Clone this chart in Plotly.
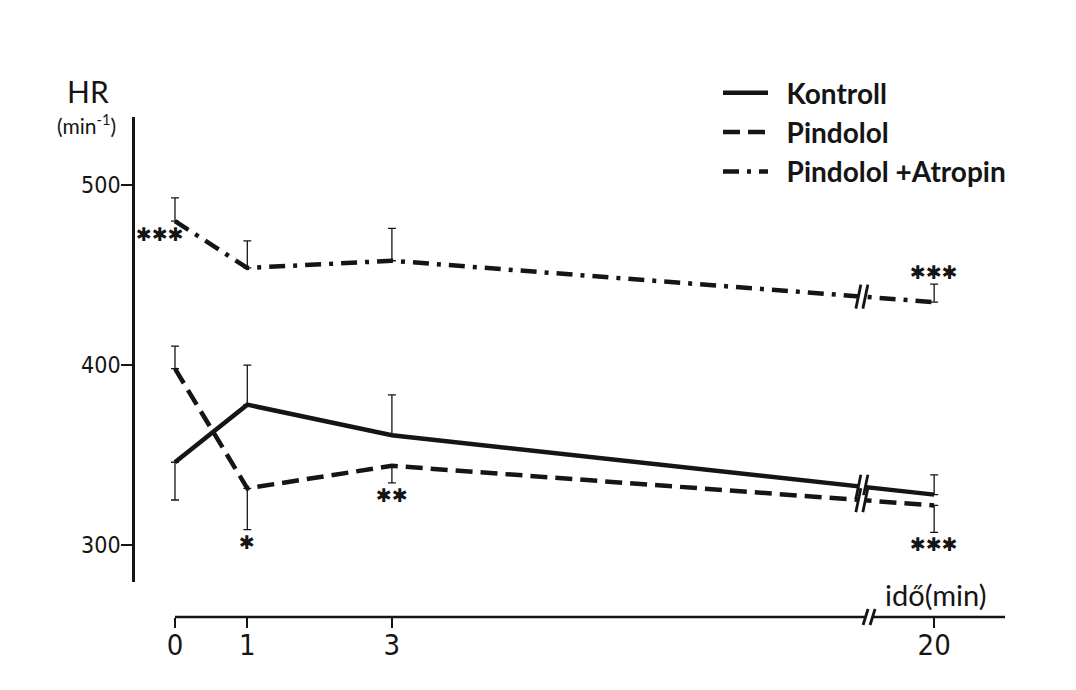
import plotly.graph_objects as go

# ---------------- data ----------------
time_min = [0, 1, 3, 20]
x_tick_labels = ["0", "1", "3", "20"]
series_names = ["Kontroll", "Pindolol", "Pindolol +Atropin"]

kontroll_hr = [346, 378, 361, 328]
pindolol_hr = [398, 331.5, 344, 322]
atropin_hr = [480, 454, 458, 435]

kontroll_sem = [21, 22, 22.5, 11]
pindolol_sem = [12.5, 23, 9.5, 15]
atropin_sem = [13, 15, 18, 10]

# +1: bar drawn upwards, -1: bar drawn downwards
kontroll_bar_dir = [-1, 1, 1, 1]
pindolol_bar_dir = [1, -1, -1, -1]
atropin_bar_dir = [1, 1, 1, 1]

y_ticks = [300, 400, 500]
y_tick_labels = ["300", "400", "500"]

# significance markers: (series index, time index, text)
sig_marks = [(2, 0, "✱✱✱"), (1, 1, "✱"), (1, 2, "✱✱"), (2, 3, "✱✱✱"), (1, 3, "✱✱✱")]

# ---------------- broken time axis ----------------
AXIS_GAP = 9.5          # minutes cut out of the axis before 20 min
LINE_BREAK = 9.5        # display position of break marks on lines
AXIS_BREAK = 9.6        # display position of break mark on axis
AXIS_END = 11.48


def disp(t):
    return t if t < 10 else t - AXIS_GAP


x_disp = [disp(t) for t in time_min]

INK = "#151515"
OFF = 8                       # page body margin of the html page
W, H = 1076, 690
ML, MR, MT, MB = 135 - OFF, 36 + OFF, 117 - OFF, 73 + OFF
PW, PH = W - ML - MR, H - MT - MB
PX_PER_X = 72.3
X0_PX = 175 - OFF
x_range = [(ML - X0_PX) / PX_PER_X, (ML + PW - X0_PX) / PX_PER_X]
y_range = [279.6, 537.9]
y_dom0 = 35.3 / PH

NUM_FONT = "Liberation Sans Narrow, DejaVu Sans Condensed, Liberation Sans, sans-serif"
TXT_FONT = "Lato, Noto Sans, sans-serif"

series = [
    (kontroll_hr, kontroll_sem, kontroll_bar_dir, "solid"),
    (pindolol_hr, pindolol_sem, pindolol_bar_dir, "17px,8px"),
    (atropin_hr, atropin_sem, atropin_bar_dir, "16px,8px,4px,8px"),
]

fig = go.Figure()

# error bars
for (vals, sem, dirs, dash), name in zip(series, series_names):
    plus = [s if d > 0 else 0 for s, d in zip(sem, dirs)]
    minus = [s if d < 0 else 0 for s, d in zip(sem, dirs)]
    fig.add_trace(go.Scatter(
        x=x_disp, y=vals, mode="markers",
        marker=dict(size=1, color="rgba(0,0,0,0)"),
        error_y=dict(type="data", symmetric=False, array=plus, arrayminus=minus,
                     color=INK, thickness=1.3, width=4),
        showlegend=False, hoverinfo="skip"))

# lines
for (vals, sem, dirs, dash), name in zip(series, series_names):
    fig.add_trace(go.Scatter(
        x=x_disp, y=vals, mode="lines", name="\u00a0\u00a0" + name, legendgroup=name,
        line=dict(color=INK, width=4.5, dash=dash)))

shapes = []


def break_mark(xa, ya, yref, half_h, slant, gap):
    # white gap
    shapes.append(dict(type="rect", xref="x", yref=yref,
                       xsizemode="pixel", ysizemode="pixel",
                       xanchor=xa, yanchor=ya,
                       x0=-gap, x1=gap, y0=-5, y1=5,
                       fillcolor="white", line=dict(width=0)))
    for off in (-gap, gap):
        shapes.append(dict(type="line", xref="x", yref=yref,
                           xsizemode="pixel", ysizemode="pixel",
                           xanchor=xa, yanchor=ya,
                           x0=off - slant, x1=off + slant, y0=-half_h, y1=half_h,
                           line=dict(color=INK, width=2.8)))


# break marks on the series lines
for vals, sem, dirs, dash in series:
    xa, xb = x_disp[2], x_disp[3]
    ya, yb = vals[2], vals[3]
    yb_break = ya + (yb - ya) * (LINE_BREAK - xa) / (xb - xa)
    break_mark(LINE_BREAK, yb_break, "y", 12, 2.5, 3.5)

# x axis line (drawn as a shape so it starts at t = 0)
shapes.append(dict(type="line", xref="x", yref="paper", x0=0, x1=AXIS_END, y0=0, y1=0,
                   line=dict(color=INK, width=2.6)))
break_mark(AXIS_BREAK, 0, "paper", 8, 2.5, 3.5)

annotations = []


def paper_xy(px, py):
    return (px - OFF - ML) / PW, (H - MB - (py - OFF)) / PH


# significance markers
for si, ti, txt in sig_marks:
    vals, sem, dirs, _ = series[si]
    if si == 2 and ti == 0:
        y_anchor = vals[ti]
        xshift, yshift = -15, -13
    else:
        y_anchor = vals[ti] + dirs[ti] * sem[ti]
        xshift, yshift = 0, dirs[ti] * 12
    annotations.append(dict(x=x_disp[ti], y=y_anchor, xref="x", yref="y", text=txt,
                            showarrow=False, xshift=xshift, yshift=yshift,
                            font=dict(size=19, color=INK, family="DejaVu Sans"),
                            xanchor="center", yanchor="middle"))

# axis titles
hx, hy = paper_xy(88, 91)
annotations.append(dict(x=hx, y=hy, xref="paper", yref="paper", text="HR", showarrow=False,
                        font=dict(size=30, color=INK, family=TXT_FONT),
                        xanchor="center", yanchor="middle"))
mx, my = paper_xy(86, 124)
annotations.append(dict(x=mx, y=my, xref="paper", yref="paper", text="(min<sup>-1</sup>)",
                        showarrow=False, font=dict(size=21, color=INK, family=TXT_FONT),
                        xanchor="center", yanchor="middle"))
ix, iy = paper_xy(988, 594)
annotations.append(dict(x=ix, y=iy, xref="paper", yref="paper", text="idő(min)",
                        showarrow=False, font=dict(size=29, color=INK, family=TXT_FONT),
                        xanchor="right", yanchor="middle"))

fig.update_layout(
    width=W, height=H,
    margin=dict(l=ML, r=MR, t=MT, b=MB, autoexpand=False),
    paper_bgcolor="white", plot_bgcolor="white",
    shapes=shapes, annotations=annotations,
    xaxis=dict(range=x_range, anchor="free", position=0, showline=False,
               showgrid=False, zeroline=False,
               tickmode="array", tickvals=x_disp, ticktext=x_tick_labels,
               ticks="outside", ticklen=10, tickwidth=2.4, tickcolor=INK,
               ticklabelstandoff=-8,
               tickfont=dict(size=29, color=INK, family=NUM_FONT)),
    yaxis=dict(range=y_range, domain=[y_dom0, 1], showline=True, linecolor=INK,
               linewidth=2.6, showgrid=False, zeroline=False,
               tickmode="array", tickvals=y_ticks, ticktext=y_tick_labels,
               ticks="outside", ticklen=11, tickwidth=2.4, tickcolor=INK,
               ticklabelstandoff=-4,
               tickfont=dict(size=23, color=INK, family=NUM_FONT)),
    legend=dict(xref="container", yref="container", x=710 / W, y=1 - 60 / H,
                xanchor="left", yanchor="top", itemwidth=45, tracegroupgap=0,
                font=dict(size=28, color=INK, family=TXT_FONT, weight="bold"),
                bgcolor="rgba(0,0,0,0)"),
    showlegend=True,
)

fig.write_html("out.html")
